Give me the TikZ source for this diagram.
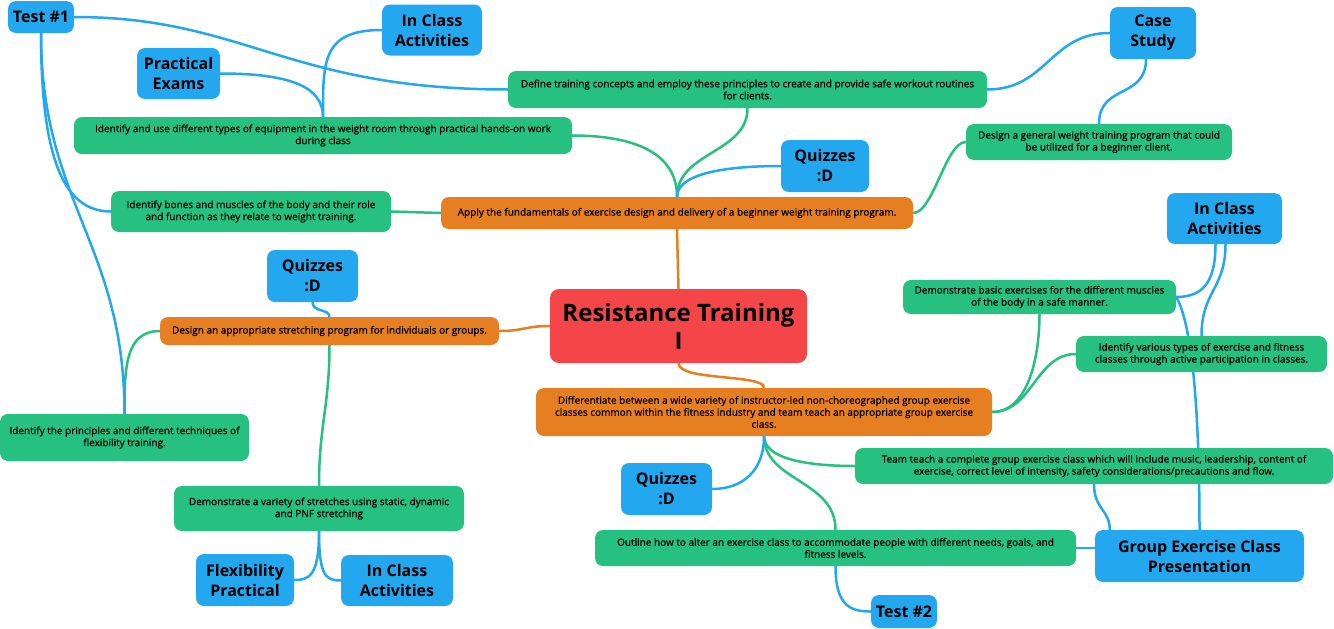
\documentclass[tikz,border=0pt]{standalone}
\usepackage{fontspec}
\setmainfont{Open Sans}
\usetikzlibrary{backgrounds}
\definecolor{cblue}{RGB}{35,168,240}
\definecolor{cgreen}{RGB}{38,192,128}
\definecolor{corange}{RGB}{230,126,34}
\definecolor{cred}{RGB}{244,70,72}
\newcommand{\smallfnt}{\fontsize{10}{12}\selectfont\addfontfeature{FakeBold=0.6}}
\tikzset{
 box/.style={rounded corners=8pt, align=center, inner sep=2pt, text=black, draw=none},
 bluebox/.style={box, fill=cblue, font=\fontsize{16}{20}\selectfont\bfseries},
 greenbox/.style={box, fill=cgreen, font=\smallfnt},
 orangebox/.style={box, fill=corange, font=\smallfnt},
 rootbox/.style={box, rounded corners=9pt, fill=cred, font=\fontsize{24}{28}\selectfont\bfseries},
 bl/.style={draw=cblue, line width=2.5pt},
 gl/.style={draw=cgreen, line width=2.5pt},
 ol/.style={draw=corange, line width=2.5pt},
}
\begin{document}
\begin{tikzpicture}[x=1pt,y=-1pt]
\useasboundingbox (0,0) rectangle (1334,629);
% root
\node[rootbox, minimum width=257pt, minimum height=74pt] (C) at (678.5,326) {Resistance Training\\I};
% orange
\node[orangebox, minimum width=472pt, minimum height=32pt] (Apply) at (677,213) {Apply the fundamentals of exercise design and delivery of a beginner weight training program.};
\node[orangebox, minimum width=339pt, minimum height=28pt] (Stretch) at (329.5,331) {Design an appropriate stretching program for individuals or groups.};
\node[orangebox, minimum width=456pt, minimum height=48pt] (Diff) at (764,412) {Differentiate between a wide variety of instructor-led non-choreographed group exercise\\classes common within the fitness industry and team teach an appropriate group exercise\\class.};
% green
\node[greenbox, minimum width=479pt, minimum height=37pt] (Define) at (747.5,89.5) {Define training concepts and employ these principles to create and provide safe workout routines\\for clients.};
\node[greenbox, minimum width=498pt, minimum height=37pt] (IdUse) at (323,135.5) {Identify and use different types of equipment in the weight room through practical hands-on work\\during class};
\node[greenbox, minimum width=266pt, minimum height=36pt] (Design) at (1099,142) {Design a general weight training program that could\\be utilized for a beginner client.};
\node[greenbox, minimum width=280pt, minimum height=41pt] (Bones) at (251,211.5) {Identify bones and muscles of the body and their role\\and function as they relate to weight training.};
\node[greenbox, minimum width=273pt, minimum height=34pt] (DemoBasic) at (1039.5,297) {Demonstrate basic exercises for the different muscles\\of the body in a safe manner.};
\node[greenbox, minimum width=251pt, minimum height=36pt] (Various) at (1201.5,354) {Identify various types of exercise and fitness\\classes through active participation in classes.};
\node[greenbox, minimum width=249pt, minimum height=47pt] (Principles) at (124.5,437.5) {Identify the principles and different techniques of\\flexibility training.};
\node[greenbox, minimum width=478pt, minimum height=36pt] (Team) at (1094,466) {Team teach a complete group exercise class which will include music, leadership, content of\\exercise, correct level of intensity, safety considerations/precautions and flow.};
\node[greenbox, minimum width=290pt, minimum height=45pt] (Stretches) at (319,508.5) {Demonstrate a variety of stretches using static, dynamic\\and PNF stretching};
\node[greenbox, minimum width=481pt, minimum height=36pt] (Outline) at (835.5,548) {Outline how to alter an exercise class to accommodate people with different needs, goals, and\\fitness levels.};
% blue
\node[bluebox, minimum width=66pt, minimum height=32pt] (T1) at (41,17) {Test \#1};
\node[bluebox, minimum width=100pt, minimum height=51pt] (ICAt) at (432,30) {In Class\\Activities};
\node[bluebox, minimum width=83pt, minimum height=51pt] (PE) at (178.5,73.5) {Practical\\Exams};
\node[bluebox, minimum width=86pt, minimum height=52pt] (CS) at (1153,33) {Case\\Study};
\node[bluebox, minimum width=88pt, minimum height=52pt] (QuizT) at (825,166) {Quizzes\\:D};
\node[bluebox, minimum width=115pt, minimum height=51pt] (ICAr) at (1224.5,218.5) {In Class\\Activities};
\node[bluebox, minimum width=91pt, minimum height=52pt] (QuizL) at (312.5,276) {Quizzes\\:D};
\node[bluebox, minimum width=98pt, minimum height=52pt] (FP) at (245,580) {Flexibility\\Practical};
\node[bluebox, minimum width=112pt, minimum height=51pt] (ICAb) at (397,580.5) {In Class\\Activities};
\node[bluebox, minimum width=91pt, minimum height=52pt] (QuizB) at (666.5,489) {Quizzes\\:D};
\node[bluebox, minimum width=209pt, minimum height=52pt] (GE) at (1199.5,556) {Group Exercise Class\\Presentation};
\node[bluebox, minimum width=66pt, minimum height=33pt] (T2) at (904,611.5) {Test \#2};
\begin{scope}[on background layer]
\fill[white] (0,0) rectangle (1334,629);
% orange connectors
\draw[ol] (C.north) -- (Apply.south);
\draw[ol] (C.west) .. controls +(-25,0) and +(25,0) .. (Stretch.east);
\draw[ol] (C.south) .. controls +(0,18) and +(0,-14) .. (Diff.north);
% green connectors
\draw[gl] (Apply.north) .. controls +(0,-45) and +(0,45) .. (Define.south);
\draw[gl] (Apply.north) .. controls +(0,-45) and +(60,0) .. (IdUse.east);
\draw[gl] (Apply.west) -- (Bones.east);
\draw[gl] (Apply.east) .. controls +(20,0) and +(-20,0) .. (Design.west);
\draw[gl] (Stretch.west) .. controls +(-35,0) and +(0,-45) .. (Principles.north);
\draw[gl] (Stretch.south) .. controls +(0,60) and +(0,-60) .. (Stretches.north);
\draw[gl] (Diff.east) .. controls +(35,0) and +(0,45) .. (DemoBasic.south);
\draw[gl] (Diff.east) .. controls +(40,0) and +(-40,0) .. (Various.west);
\draw[gl] (Diff.south) .. controls +(0,22) and +(-50,0) .. (Team.west);
\draw[gl] (Diff.south) .. controls +(0,45) and +(0,-50) .. (Outline.north);
% blue connectors
\draw[bl] (Diff.south) .. controls +(0,35) and +(30,0) .. (QuizB.east);
\draw[bl] (T1.east) .. controls +(170,0) and +(-220,0) .. (Define.west);
\draw[bl] (T1.south) .. controls +(0,130) and +(-45,0) .. (Bones.west);
\draw[bl] (T1.south) .. controls +(0,170) and +(0,-170) .. (Principles.north);
\draw[bl] (ICAt.west) .. controls +(-60,0) and +(0,-55) .. (IdUse.north);
\draw[bl] (PE.east) .. controls +(70,0) and +(0,-30) .. (IdUse.north);
\draw[bl] (CS.west) .. controls +(-60,0) and +(60,0) .. (Define.east);
\draw[bl] ([xshift=-7pt]CS.south) .. controls +(0,40) and +(0,-40) .. (Design.north);
\draw[bl] (QuizT.west) .. controls +(-60,0) and +(0,-22) .. (Apply.north);
\draw[bl] ([xshift=-9pt]ICAr.south) .. controls +(0,40) and +(25,0) .. (DemoBasic.east);
\draw[bl] ([xshift=1pt]ICAr.south) .. controls +(0,45) and +(0,-45) .. (Various.north);
\draw[bl] (DemoBasic.east) .. controls +(12,20) and +(0,-150) .. (GE.north);
\draw[bl] (Team.south) .. controls +(0,25) and +(0,-20) .. ([xshift=15pt]GE.north west);
\draw[bl] (Outline.east) -- (GE.west |- Outline.east);
\draw[bl] (Outline.south) .. controls +(0,40) and +(-20,0) .. (T2.west);
\draw[bl] (QuizL.south) .. controls +(0,10) and +(0,-8) .. (Stretch.north);
\draw[bl] (Stretches.south) .. controls +(0,45) and +(15,0) .. (FP.east);
\draw[bl] (Stretches.south) .. controls +(0,45) and +(-15,0) .. (ICAb.west);
\end{scope}
\end{tikzpicture}
\end{document}
